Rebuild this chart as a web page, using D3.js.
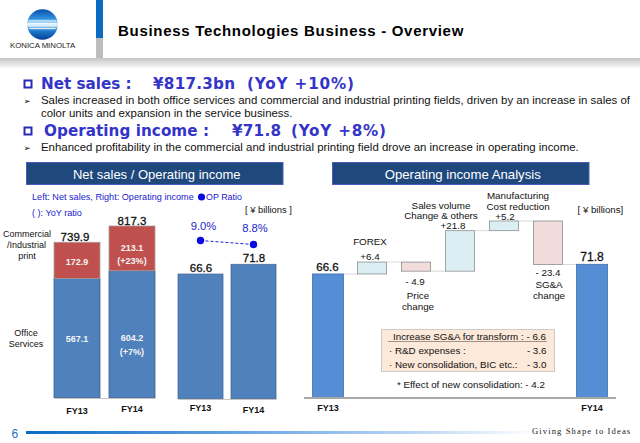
<!DOCTYPE html>
<html>
<head>
<meta charset="utf-8">
<script src="https://cdn.jsdelivr.net/npm/d3@7"></script>
<style>
  html, body { margin: 0; padding: 0; background: #fff; }
  svg { display: block; font-family: "Liberation Sans", Arial, sans-serif; }
</style>
</head>
<body>
<div id="chart"></div>
<script>
// chart values
var years = ["FY13", "FY14"];
var officeServices = [567.1, 604.2];
var commercialPrint = [172.9, 213.1];
var netSales = [739.9, 817.3];
var officeLabels = [["567.1"], ["604.2", "(+7%)"]];
var printLabels = [["172.9"], ["213.1", "(+23%)"]];
var opIncome = [66.6, 71.8];
var opRatio = [9.0, 8.8];
var steps = ["FY13", "FOREX", "Price", "Volume", "Cost", "SGA", "FY14"];
var stepValues = [66.6, 6.4, -4.9, 21.8, 5.2, -23.4, 71.8];
var stepLabels = ["66.6", "+6.4", "- 4.9", "+21.8", "+5.2", "- 23.4", "71.8"];

var svg = d3.select("#chart").append("svg").attr("width", 640).attr("height", 443);
var defs = svg.append("defs");

function gradient(id, x2, y2, stops) {
  var g = defs.append("linearGradient").attr("id", id)
    .attr("x1", 0).attr("y1", 0).attr("x2", x2).attr("y2", y2);
  stops.forEach(function (s) {
    g.append("stop").attr("offset", s[0]).attr("stop-color", s[1]);
  });
}
gradient("headShadow", 0, 1, [[0, "#c4c4c4"], [1, "#ffffff"]]);
gradient("footLine", 1, 0, [[0, "#0a6cc0"], [0.45, "#6fa8e6"], [0.8, "#c4dcf6"], [1, "#ffffff"]]);
gradient("logoBall", 0, 1, [[0, "#0a4fa8"], [0.3, "#2f8fdc"], [0.5, "#d8f0ff"], [0.72, "#1a78cc"], [1, "#063f94"]]);

function label(x, y, str, o) {
  o = o || {};
  var t = svg.append("text").attr("x", x).attr("y", y).text(str)
    .attr("font-size", o.size || 9)
    .attr("font-weight", o.bold ? "bold" : null)
    .attr("font-family", o.family || null)
    .attr("letter-spacing", o.spacing || null)
    .attr("text-anchor", o.anchor || "start")
    .attr("fill", o.color || "#111");
  if (o.length) t.attr("textLength", o.length).attr("lengthAdjust", "spacing");
  // slide numbers are a bit heavier than regular, lighter than our bold
  if (o.heavy) t.attr("stroke", o.color || "#111").attr("stroke-width", 0.3);
  return t;
}

// ---- slide header
svg.append("rect").attr("x", 0).attr("y", 58).attr("width", 640).attr("height", 11).attr("fill", "url(#headShadow)");
svg.append("rect").attr("x", 96).attr("y", 0).attr("width", 7).attr("height", 38).attr("fill", "#0a6cc0");
svg.append("rect").attr("x", 96).attr("y", 38).attr("width", 7).attr("height", 20).attr("fill", "#bdbdbd");
svg.append("circle").attr("cx", 42.5).attr("cy", 24.5).attr("r", 15.3).attr("fill", "url(#logoBall)");
[20.5, 23, 25.5, 28].forEach(function (y, i) {
  svg.append("rect").attr("x", 28.5 - (i === 3 ? -1 : 0)).attr("y", y).attr("width", 28 - (i === 3 ? 2 : 0)).attr("height", 0.8).attr("fill", "#fff");
});
label(10, 48, "KONICA MINOLTA", { size: 7.8, color: "#222" });
label(118, 36, "Business Technologies Business - Overview", { size: 15, bold: true, color: "#000", spacing: 0.7 });

// ---- summary bullets
var headBlue = "#3434c8";
var headFont = "'DejaVu Sans', Verdana, sans-serif";
function heading(x, y, str, len) {
  label(x, y, str, { size: 15.2, bold: true, color: headBlue, family: headFont, length: len });
}
function bullet(y) {
  svg.append("rect").attr("x", 24.5).attr("y", y).attr("width", 7).attr("height", 7)
    .attr("fill", "#fff").attr("stroke", "#2a2ab8").attr("stroke-width", 2);
}
function arrow(y) {
  label(23.5, y, "\u27A2", { size: 8.5, color: "#111", family: "'DejaVu Sans'" });
}
bullet(80.5);
heading(41, 89, "Net sales :", 90.7);
heading(153, 89, "\u00A5817.3bn", 82);
heading(247, 89, "(YoY +10%)", 107);
arrow(103.5);
label(41, 104, "Sales increased in both office services and commercial and industrial printing fields, driven by an increase in sales of", { size: 11.43, color: "#111" });
label(41, 117, "color units and expansion in the service business.", { size: 11.43, color: "#111" });
bullet(127.5);
heading(44, 136, "Operating income :", 165);
heading(232, 136, "\u00A571.8", 49);
heading(291, 136, "(YoY +8%)", 95);
arrow(150.5);
label(41, 151, "Enhanced profitability in the commercial and industrial printing field drove an increase in operating income.", { size: 11.43, color: "#111" });

// ---- panel titles
function panelTitle(x, w, str, size) {
  svg.append("rect").attr("x", x).attr("y", 162.5).attr("width", w).attr("height", 22)
    .attr("fill", "#1f497d").attr("stroke", "#4a5cb8").attr("stroke-width", 1);
  label(x + w / 2 + 2, 178.7, str, { size: size, color: "#fff", anchor: "middle" });
}
panelTitle(26.5, 256.5, "Net sales / Operating income", 13);
panelTitle(332.5, 256.5, "Operating income Analysis", 13.2);

// ---- left panel: stacked net sales
var noteBlue = "#2020d0";
label(32, 200, "Left: Net sales,  Right: Operating income", { size: 9.15, color: noteBlue });
svg.append("circle").attr("cx", 201.5).attr("cy", 197).attr("r", 3.6).attr("fill", "#0a0ae0");
label(206, 200, "OP Ratio", { size: 8.9, color: noteBlue });
label(32, 216, "( ): YoY ratio", { size: 9.1, color: noteBlue });
label(245, 213, "[ \u00A5 billions ]", { size: 9.4, color: "#111" });

var salesX = d3.scaleBand().domain(years).range([54, 155]).paddingInner(9 / 55);
var salesY = d3.scaleLinear().domain([0, 817.3]).range([397.7, 226]);
var stackRows = years.map(function (y, i) {
  return { year: y, office: officeServices[i], print: commercialPrint[i] };
});
var stacked = d3.stack().keys(["office", "print"])(stackRows);
var stackColors = { office: "#4f81bd", print: "#c0504d" };

stacked.forEach(function (layer) {
  svg.append("g").selectAll("rect").data(layer).enter().append("rect")
    .attr("x", function (d) { return salesX(d.data.year); })
    .attr("y", function (d) { return salesY(d[1]); })
    .attr("width", salesX.bandwidth())
    .attr("height", function (d) { return salesY(d[0]) - salesY(d[1]); })
    .attr("fill", stackColors[layer.key])
    .attr("stroke", layer.key === "office" ? "#3c5f8c" : "#a8a0a0")
    .attr("stroke-width", 0.8);
});

function barText(lines, cx, cy) {
  lines.forEach(function (s, i) {
    label(cx, cy + i * 13.7, s, { size: 9, bold: true, color: "#f4f4f4", anchor: "middle" });
  });
}
years.forEach(function (y, i) {
  var cx = salesX(y) + salesX.bandwidth() / 2;
  barText(printLabels[i], cx, i === 0 ? 264.5 : 250.5);
  barText(officeLabels[i], cx, i === 0 ? 342 : 341);
  label(i === 0 ? 75 : 132, salesY(netSales[i]) - 1.5, netSales[i].toFixed(1), { size: 11.5, color: "#111", anchor: "middle", heavy: true });
});
label(27, 237, "Commercial", { size: 9, anchor: "middle" });
label(26.5, 248, "/Industrial", { size: 9, anchor: "middle" });
label(27, 259, "print", { size: 9, anchor: "middle" });
label(26, 336, "Office", { size: 9, anchor: "middle" });
label(26, 347, "Services", { size: 9, anchor: "middle" });

var salesAxis = d3.axisBottom(salesX).tickSize(0).tickPadding(7);
function styleAxis(sel, color) {
  sel.selectAll("text").attr("font-size", 9).attr("font-weight", "bold")
    .attr("font-family", "'Liberation Sans'").attr("fill", "#111");
  sel.select(".domain").attr("stroke", color).attr("stroke-width", 1);
}
svg.append("g").attr("transform", "translate(0,398)").call(salesAxis).call(styleAxis, "#c4c4c4")
  .selectAll("text").attr("dy", function (d, i) { return i === 0 ? "1em" : "0.78em"; });

// ---- left panel: operating income + ratio
var opX = d3.scaleBand().domain(years).range([178, 276]).paddingInner(8 / 53);
var opY = d3.scaleLinear().domain([0, 71.8]).range([398.7, 264.3]);
svg.append("g").selectAll("rect").data(opIncome).enter().append("rect")
  .attr("x", function (d, i) { return opX(years[i]); })
  .attr("y", function (d) { return opY(d); })
  .attr("width", opX.bandwidth())
  .attr("height", function (d) { return opY(0) - opY(d); })
  .attr("fill", "#4f81bd").attr("stroke", "#4a6a94").attr("stroke-width", 0.8);
svg.append("g").attr("transform", "translate(0,399)").call(d3.axisBottom(opX).tickSize(0).tickPadding(6)).call(styleAxis, "#c4c4c4")
  .selectAll("text").attr("dy", function (d, i) { return i === 0 ? "0.71em" : "0.9em"; });
opIncome.forEach(function (v, i) {
  label(opX(years[i]) + opX.bandwidth() / 2 + 0.5, opY(v) - 2, v.toFixed(1), { size: 11.5, anchor: "middle", heavy: true });
});

var ratioY = d3.scaleLinear().domain([8.8, 9.0]).range([244.5, 240.5]);
var ratioLine = d3.line()
  .x(function (d, i) { return opX(years[i]) + opX.bandwidth() / 2; })
  .y(function (d) { return ratioY(d); });
svg.append("path").datum(opRatio).attr("d", ratioLine)
  .attr("fill", "none").attr("stroke", "#2020e0").attr("stroke-width", 1).attr("stroke-dasharray", "3 2");
svg.append("g").selectAll("circle").data(opRatio).enter().append("circle")
  .attr("cx", function (d, i) { return opX(years[i]) + opX.bandwidth() / 2; })
  .attr("cy", function (d) { return ratioY(d); })
  .attr("r", 3.7).attr("fill", "#0a0ae0");
opRatio.forEach(function (v, i) {
  label(opX(years[i]) + opX.bandwidth() / 2 + (i === 0 ? 3 : 1.5), i === 0 ? 230 : 232, v.toFixed(1) + "%", { size: 11.2, color: "#2626cc", anchor: "middle" });
});

// ---- right panel: waterfall
var wfX = d3.scaleBand().domain(steps).range([306, 614]).paddingInner(0.34).paddingOuter(0.17);
var wfY = d3.scaleLinear().domain([0, 71.8]).range([397.7, 264.3]);
var running = 0;
var wfRows = steps.map(function (s, i) {
  var v = stepValues[i], total = i === 0 || i === steps.length - 1;
  var from = total ? 0 : running;
  var to = total ? v : running + v;
  running = to;
  return { step: s, total: total, up: v >= 0, lo: Math.min(from, to), hi: Math.max(from, to), end: to };
});

// thin connectors between neighbouring steps
wfRows.slice(0, -1).forEach(function (d, i) {
  var x1 = wfX(d.step) + wfX.bandwidth();
  svg.append("line").attr("x1", x1).attr("x2", wfX(steps[i + 1]))
    .attr("y1", wfY(d.end)).attr("y2", wfY(d.end))
    .attr("stroke", "#c8c8c8").attr("stroke-width", 0.7);
});
svg.append("g").selectAll("rect").data(wfRows).enter().append("rect")
  .attr("x", function (d) { return wfX(d.step) - (d.total ? 1 : 0); })
  .attr("y", function (d) { return wfY(d.hi); })
  .attr("width", function (d) { return wfX.bandwidth() + (d.total ? 2 : 0); })
  .attr("height", function (d) { return wfY(d.lo) - wfY(d.hi); })
  .attr("fill", function (d) { return d.total ? "#558ed5" : d.up ? "#dbeef4" : "#f2dcdb"; })
  .attr("stroke", function (d) { return d.total ? "#3e6ea8" : "#8a9090"; })
  .attr("stroke-width", 0.8);

var wfAxis = d3.axisBottom(wfX).tickSize(0).tickPadding(7)
  .tickFormat(function (d) { return d === "FY13" || d === "FY14" ? d : ""; });
svg.append("g").attr("transform", "translate(0,398)").call(wfAxis).call(styleAxis, "#a8a8a8")
  .select(".domain").attr("stroke-width", 2).attr("d", "M304,0H616");

function wfCx(i) { return wfX(steps[i]) + wfX.bandwidth() / 2; }
var wfText = 9.8;
label(wfCx(0) - 0.5, 271, stepLabels[0], { size: 11.5, anchor: "middle", heavy: true });
label(wfCx(6), 261, stepLabels[6], { size: 12, anchor: "middle", heavy: true });
label(370, 260, stepLabels[1], { size: wfText, anchor: "middle" });
label(415, 285, stepLabels[2], { size: wfText, anchor: "middle" });
label(453, 229, stepLabels[3], { size: wfText, anchor: "middle" });
label(505, 219.5, stepLabels[4], { size: wfText, anchor: "middle" });
label(548, 275.5, stepLabels[5], { size: wfText, anchor: "middle" });

label(370, 245, "FOREX", { size: wfText, anchor: "middle" });
label(418, 299.3, "Price", { size: wfText, anchor: "middle" });
label(418, 309.5, "change", { size: wfText, anchor: "middle" });
label(441, 208.5, "Sales volume", { size: wfText, anchor: "middle" });
label(441, 218.5, "Change & others", { size: wfText, anchor: "middle" });
label(518, 199, "Manufacturing", { size: wfText, anchor: "middle" });
label(518, 209.5, "Cost reduction", { size: wfText, anchor: "middle" });
label(549, 288, "SG&A", { size: wfText, anchor: "middle" });
label(549, 298.5, "change", { size: wfText, anchor: "middle" });
label(577.5, 213, "[ \u00A5 billions]", { size: 9.7 });

// ---- SG&A callout
svg.append("rect").attr("x", 381.5).attr("y", 329.5).attr("width", 173).attr("height", 42)
  .attr("fill", "#fde9d9").attr("stroke", "#8a8a8a").attr("stroke-width", 0.8).attr("stroke-dasharray", "1 1");
svg.append("line").attr("x1", 388).attr("x2", 547).attr("y1", 341.5).attr("y2", 341.5)
  .attr("stroke", "#8a7a70").attr("stroke-width", 0.8);
label(393, 340, "Increase SG&A for transform : - 6.6", { size: wfText });
label(389, 354, "\u00B7 R&D expenses :", { size: wfText });
label(546.5, 354, "- 3.6", { size: wfText, anchor: "end" });
label(389, 368, "\u00B7 New consolidation, BIC etc.:", { size: wfText });
label(546.5, 368, "- 3.0", { size: wfText, anchor: "end" });
label(397, 388, "* Effect of new consolidation: - 4.2", { size: wfText });

// ---- footer
label(11.5, 438, "6", { size: 12, color: "#1f6fc0" });
svg.append("rect").attr("x", 26).attr("y", 431).attr("width", 510).attr("height", 3).attr("fill", "url(#footLine)");
label(532, 434, "Giving Shape to Ideas", { size: 8.6, color: "#222", family: "'Liberation Serif', serif", spacing: 1.1 });
</script>
</body>
</html>
